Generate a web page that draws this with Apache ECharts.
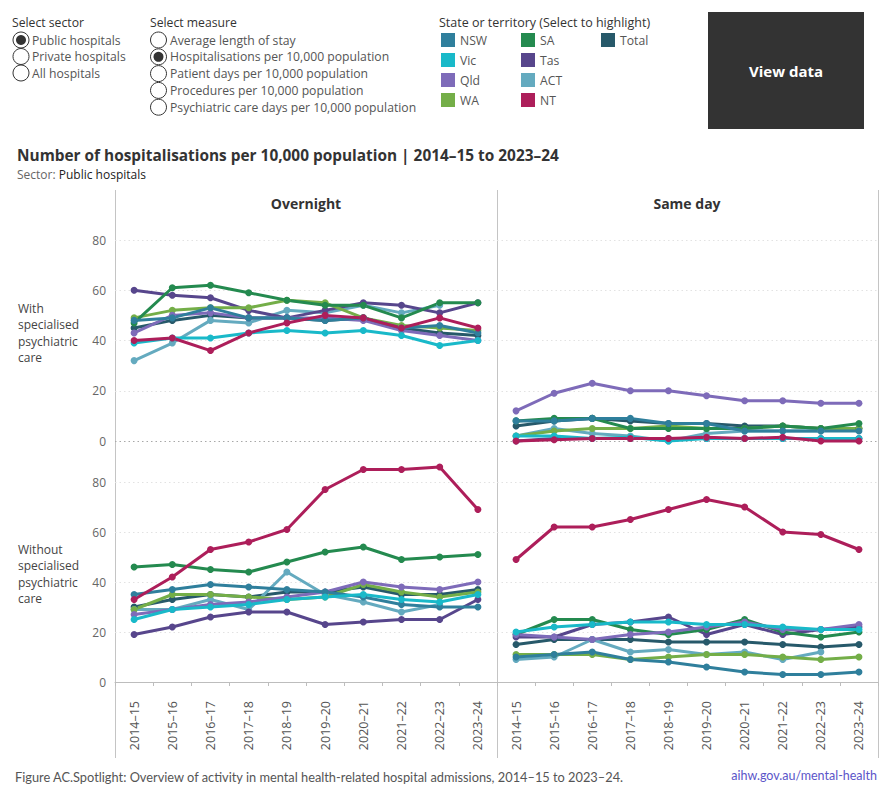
<!DOCTYPE html>
<html>
<head>
<meta charset="utf-8">
<script src="https://cdn.jsdelivr.net/npm/echarts@6/dist/echarts.min.js"></script>
<style>
  html, body { margin: 0; padding: 0; background: #ffffff; }
  #chart { width: 891px; height: 800px; }
</style>
</head>
<body>
<div id="chart"></div>
<script>
// ---------- DATA ----------
const categories = ['2014–15','2015–16','2016–17','2017–18','2018–19','2019–20','2020–21','2021–22','2022–23','2023–24'];
const states = ['NSW','Vic','Qld','WA','SA','Tas','ACT','NT','Total'];
const yTicks = [0, 20, 40, 60, 80];

const overnightWith = {
  NSW:   [48, 49, 53, 49, 49, 48, 49, 45, 46, 43],
  Vic:   [39, 41, 41, 43, 44, 43, 44, 42, 38, 40],
  Qld:   [43, 50, 51, 49, 49, 49, 48, 44, 42, 40],
  WA:    [49, 52, 53, 53, 56, 55, 49, 46, 45, 44],
  SA:    [47, 61, 62, 59, 56, 54, 54, 49, 55, 55],
  Tas:   [60, 58, 57, 52, 49, 52, 55, 54, 51, 55],
  ACT:   [32, 39, 48, 47, 52, 51, 54, 51, 54, null],
  NT:    [40, 41, 36, 43, 47, 50, 49, 45, 49, 45],
  Total: [45, 48, 50, 49, 49, 48, 49, 45, 43, 42]
};
const samedayWith = {
  NSW:   [8, 8, 9, 9, 7, 7, 4, 4, 4, 4],
  Vic:   [2, 2, 1, 1.5, 0, 1, 1, 1, 1, 1],
  Qld:   [12, 19, 23, 20, 20, 18, 16, 16, 15, 15],
  WA:    [2, 4, 5, 5, 6, 5, 5, 6, 5, 5],
  SA:    [8, 9, 9, 5, 5, 5, 5, 6, 5, 7],
  Tas:   [0, 1, 1, 1, 1, 1, 1, 1, 1, 1],
  ACT:   [2, 5, 3, 2, 0, 3, 4, 4, 4, null],
  NT:    [0, 0.5, 1, 1, 1, 1.5, 1, 1.5, 0, 0],
  Total: [6, 8, 9, 8, 7, 7, 6, 6, 5, 5]
};
const overnightWithout = {
  NSW:   [35, 37, 39, 38, 37, 36, 34, 31, 30, 30],
  Vic:   [25, 29, 30, 31, 33, 34, 35, 33, 32, 35],
  Qld:   [27, 29, 31, 32, 34, 36, 40, 38, 37, 40],
  WA:    [29, 35, 35, 34, 33, 34, 39, 36, 34, 36],
  SA:    [46, 47, 45, 44, 48, 52, 54, 49, 50, 51],
  Tas:   [19, 22, 26, 28, 28, 23, 24, 25, 25, 33],
  ACT:   [29, 29, 33, 29, 44, 35, 32, 28, 31, null],
  NT:    [33, 42, 53, 56, 61, 77, 85, 85, 86, 69],
  Total: [30, 33, 35, 34, 36, 36, 38, 35, 35, 37]
};
const samedayWithout = {
  NSW:   [10, 11, 12, 9, 8, 6, 4, 3, 3, 4],
  Vic:   [20, 22, 23, 24, 24, 23, 23, 22, 21, 21],
  Qld:   [19, 18, 17, 19, 20, 22, 24, 21, 21, 23],
  WA:    [11, 11, 11, 9, 10, 11, 11, 10, 9, 10],
  SA:    [19, 25, 25, 21, 19, 21, 25, 20, 18, 20],
  Tas:   [18, 18, 23, 24, 26, 19, 23, 19, 21, 22],
  ACT:   [9, 10, 17, 12, 13, 11, 12, 9, 12, null],
  NT:    [49, 62, 62, 65, 69, 73, 70, 60, 59, 53],
  Total: [15, 17, 17, 17, 16, 16, 16, 15, 14, 15]
};

// ---------- STYLE ----------
const colors = {
  NSW: '#2f7f9c', Vic: '#19b9c9', Qld: '#7e6bb9', WA: '#74ae48', SA: '#248a4f',
  Tas: '#57468c', ACT: '#64aabf', NT: '#ad1e5a', Total: '#27596a'
};
const drawOrder = ['Total','ACT','Tas','WA','SA','Qld','NSW','Vic','NT'];
const FONT = '"Open Sans", Lato, sans-serif';
const NARROW = '"Liberation Sans Narrow", "Arial Narrow", Lato, sans-serif';

const panels = [
  { data: overnightWith,    grid: 0 },
  { data: samedayWith,      grid: 1 },
  { data: overnightWithout, grid: 2 },
  { data: samedayWithout,   grid: 3 }
];

const grids = [
  { left: 115, top: 240, width: 382, height: 201 },
  { left: 497, top: 240, width: 381, height: 201 },
  { left: 115, top: 482, width: 382, height: 200 },
  { left: 497, top: 482, width: 381, height: 200 }
].map(g => Object.assign({ containLabel: false, outerBoundsMode: 'none' }, g));

const xAxes = grids.map((g, i) => ({
  type: 'category', gridIndex: i, data: categories, boundaryGap: true,
  offset: i >= 2 ? 13 : 0,
  axisLine: { show: i >= 2, lineStyle: { color: '#bdbdbd', width: 1 } },
  axisTick: { show: i >= 2, length: 4, lineStyle: { color: '#bdbdbd' } },
  axisLabel: { show: i >= 2, rotate: 90, margin: 6, color: '#555', fontSize: 12.5, fontFamily: FONT },
  splitLine: { show: false }
}));

const yAxes = grids.map((g, i) => ({
  type: 'value', gridIndex: i, min: yTicks[0], max: yTicks[yTicks.length - 1], interval: 20,
  axisLine: { show: false }, axisTick: { show: false },
  axisLabel: { show: i % 2 === 0, color: '#666', fontSize: 12, margin: 9, fontFamily: FONT },
  splitLine: { show: true, lineStyle: { type: [1.5, 3], width: 1, color: ['#a8a8a8', '#e2e2e2', '#e2e2e2', '#e2e2e2', '#e2e2e2'] } }
}));

const series = [];
panels.forEach(p => {
  drawOrder.forEach(st => {
    series.push({
      name: st, type: 'line', xAxisIndex: p.grid, yAxisIndex: p.grid,
      data: p.data[st], clip: false, connectNulls: false,
      symbol: 'circle', symbolSize: 7, showSymbol: true,
      lineStyle: { width: 3, color: colors[st] },
      itemStyle: { color: colors[st] },
      emphasis: { disabled: true }, z: 3
    });
  });
});

// ---------- DECORATION ----------
const g = [];
function txt(x, y, text, style) {
  g.push({ type: 'text', x, y, style: Object.assign({ text, fontFamily: FONT, fontSize: 12.2, fill: '#555', verticalAlign: 'middle' }, style || {}) });
}
function radio(cx, cy, on) {
  g.push({ type: 'circle', shape: { cx, cy, r: 8 }, style: { fill: '#fff', stroke: '#333', lineWidth: 1 } });
  if (on) g.push({ type: 'circle', shape: { cx, cy, r: 5 }, style: { fill: '#333' } });
}
txt(12, 22, 'Select sector', { fill: '#333', fontSize: 12.2 });
const sectors = ['Public hospitals', 'Private hospitals', 'All hospitals'];
sectors.forEach((s, i) => { radio(21, 40 + i * 16.5, i === 0); txt(32, 40 + i * 16.5, s); });
txt(150, 22, 'Select measure', { fill: '#333', fontSize: 12.2 });
const measures = ['Average length of stay', 'Hospitalisations per 10,000 population', 'Patient days per 10,000 population', 'Procedures per 10,000 population', 'Psychiatric care days per 10,000 population'];
measures.forEach((s, i) => { radio(158.5, 40 + i * 16.8, i === 1); txt(170, 40 + i * 16.8, s); });

txt(439, 22, 'State or territory (Select to highlight)', { fill: '#333', fontSize: 12.5 });
const legendCols = [['NSW','Vic','Qld','WA'], ['SA','Tas','ACT','NT'], ['Total']];
legendCols.forEach((col, ci) => {
  col.forEach((st, ri) => {
    const x = 441 + ci * 80, y = 33 + ri * 20;
    g.push({ type: 'rect', shape: { x, y, width: 14, height: 14 }, style: { fill: colors[st] } });
    txt(x + 19, y + 7, st, { fontSize: 12.2, fill: '#555' });
  });
});

g.push({ type: 'rect', shape: { x: 708, y: 12, width: 156, height: 117 }, style: { fill: '#333333' } });
txt(786, 71, 'View data', { fill: '#ffffff', fontSize: 15, fontWeight: 'bold', align: 'center' });

txt(17, 155, 'Number of hospitalisations per 10,000 population | 2014–15 to 2023–24', { fill: '#333', fontSize: 15.4, fontWeight: 'bold' });
g.push({ type: 'text', x: 17, y: 174, style: { text: '{a|Sector: }{b|Public hospitals}', fontFamily: FONT, verticalAlign: 'middle',
  rich: { a: { fill: '#666', fontSize: 12, fontFamily: FONT }, b: { fill: '#222', fontSize: 12, fontFamily: FONT } } } });

txt(306, 203, 'Overnight', { fill: '#333', fontSize: 14, fontWeight: 'bold', align: 'center' });
txt(687, 203, 'Same day', { fill: '#333', fontSize: 14, fontWeight: 'bold', align: 'center' });

['With', 'specialised', 'psychiatric', 'care'].forEach((s, i) => txt(18, 308 + i * 16.5, s, { fill: '#444', fontSize: 12 }));
['Without', 'specialised', 'psychiatric', 'care'].forEach((s, i) => txt(18, 549 + i * 16.5, s, { fill: '#444', fontSize: 12 }));

[115, 497, 878].forEach(x => {
  g.push({ type: 'line', shape: { x1: x + 0.5, y1: 190, x2: x + 0.5, y2: 758 }, style: { stroke: '#c4c4c4', lineWidth: 1 } });
});

txt(15, 777, 'Figure AC.Spotlight: Overview of activity in mental health-related hospital admissions, 2014–15 to 2023–24.', { fill: '#555', fontSize: 12.8, fontFamily: NARROW });
txt(877, 775, 'aihw.gov.au/mental-health', { fill: '#5b55c9', fontSize: 12.5, align: 'right', fontFamily: NARROW });

const chart = echarts.init(document.getElementById('chart'), null, { renderer: 'svg', width: 891, height: 800 });
chart.setOption({
  animation: false,
  backgroundColor: '#ffffff',
  textStyle: { fontFamily: FONT },
  grid: grids,
  xAxis: xAxes,
  yAxis: yAxes,
  series: series,
  graphic: { elements: g }
});
</script>
</body>
</html>
